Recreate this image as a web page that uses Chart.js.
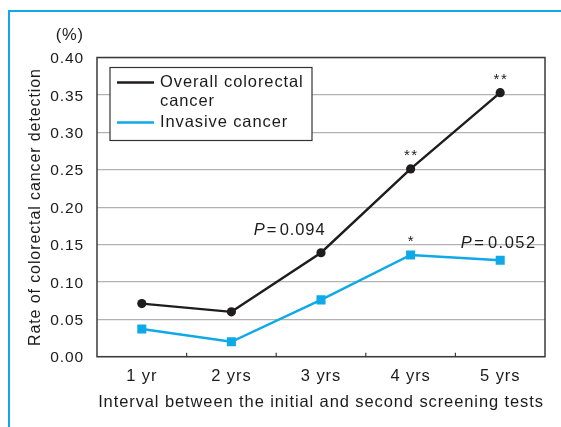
<!DOCTYPE html>
<html>
<head>
<meta charset="utf-8">
<script src="https://cdn.jsdelivr.net/npm/chart.js@4.4.1/dist/chart.umd.min.js"></script>
<style>
  html, body { margin: 0; padding: 0; background: #ffffff; }
  #wrap { position: relative; width: 561px; height: 427px; }
  canvas { display: block; }
</style>
</head>
<body>
<div id="wrap"><canvas id="chart" width="561" height="427"></canvas></div>
<script>
// Screening interval categories
const intervals = ['1 yr', '2 yrs', '3 yrs', '4 yrs', '5 yrs'];

// Detection rates (%)
const overallRates = [0.071, 0.060, 0.139, 0.251, 0.353];
const invasiveRates = [0.037, 0.020, 0.076, 0.136, 0.129];

// Significance notes shown beside each point
const overallNotes = ['', '', 'P=0.094', '**', '**'];
const invasiveNotes = ['', '', '', '*', 'P=0.052'];

// Y-axis range and step
const yMin = 0, yMax = 0.40, yStep = 0.05;

const seriesNames = ['Overall colorectal\ncancer', 'Invasive cancer'];

const FONT = '"Liberation Sans", Arial, Helvetica, sans-serif';
const TEXT_SIZE = 16.5;
const INK = '#1c1a1b';
const BLACK = '#1f1c1d';
const BLUE = '#0ea9e6';
const FRAME = '#10a8e6';
const SPACING = '0.9px';

// Draws a note; an italic leading "P" is set apart from "=value"
function drawNote(ctx, text, x, y, align) {
  if (text.startsWith('P=')) {
    const value = text.slice(2);
    ctx.font = 'italic ' + TEXT_SIZE + 'px ' + FONT;
    const wP = ctx.measureText('P').width;
    ctx.font = TEXT_SIZE + 'px ' + FONT;
    const wEq = ctx.measureText('=').width;
    const wV = ctx.measureText(value).width;
    const gap1 = 1, gap2 = 2.5;
    const total = wP + gap1 + wEq + gap2 + wV;
    let x0 = align === 'right' ? x - total : (align === 'center' ? x - total / 2 : x);
    ctx.textAlign = 'left';
    ctx.textBaseline = 'middle';
    ctx.font = 'italic ' + TEXT_SIZE + 'px ' + FONT;
    ctx.fillText('P', x0, y);
    ctx.font = TEXT_SIZE + 'px ' + FONT;
    ctx.fillText('=', x0 + wP + gap1, y);
    ctx.fillText(value, x0 + wP + gap1 + wEq + gap2, y);
  } else {
    ctx.font = '15px ' + FONT;
    ctx.textAlign = 'center';
    ctx.textBaseline = 'alphabetic';
    const saved = ctx.letterSpacing;
    ctx.letterSpacing = '1.5px';
    ctx.fillText(text, x + 0.75, y);
    ctx.letterSpacing = saved;
  }
}

const decor = {
  id: 'decor',
  beforeDraw(chart) {
    const ctx = chart.ctx;
    ctx.save();
    ctx.fillStyle = '#ffffff';
    ctx.fillRect(0, 0, chart.width, chart.height);
    // blue panel frame
    ctx.fillStyle = FRAME;
    ctx.fillRect(8, 10, chart.width - 8, 2);
    ctx.fillRect(8, 10, 2, chart.height - 10);
    ctx.restore();
    ctx.letterSpacing = SPACING;
  },
  beforeDatasetsDraw(chart) {
    const ctx = chart.ctx;
    const a = chart.chartArea;
    const x = chart.scales.x;
    ctx.save();
    // plot box
    ctx.strokeStyle = '#3a3a3a';
    ctx.lineWidth = 1.5;
    ctx.strokeRect(a.left, a.top, a.right - a.left, a.bottom - a.top);
    // inward tick marks between categories
    ctx.lineWidth = 1.2;
    for (let i = 0; i < intervals.length - 1; i++) {
      const bx = (x.getPixelForValue(i) + x.getPixelForValue(i + 1)) / 2;
      ctx.beginPath();
      ctx.moveTo(bx, a.bottom);
      ctx.lineTo(bx, a.bottom - 4);
      ctx.stroke();
    }
    // unit label above the value axis
    ctx.fillStyle = INK;
    ctx.font = TEXT_SIZE + 'px ' + FONT;
    ctx.textAlign = 'right';
    ctx.textBaseline = 'middle';
    ctx.fillText('(%)', a.left - 13, a.top - 22);

    // legend
    const lx = a.left + 13, ly = a.top + 10, lw = 202, lh = 73;
    ctx.fillStyle = '#ffffff';
    ctx.fillRect(lx, ly, lw, lh);
    ctx.strokeStyle = '#333333';
    ctx.lineWidth = 1.2;
    ctx.strokeRect(lx, ly, lw, lh);
    const rows = [
      { color: BLACK, lines: seriesNames[0].split('\n'), y: ly + 15 },
      { color: BLUE, lines: seriesNames[1].split('\n'), y: ly + 55 }
    ];
    ctx.lineWidth = 2.4;
    rows.forEach(r => {
      ctx.strokeStyle = r.color;
      ctx.beginPath();
      ctx.moveTo(lx + 7, r.y);
      ctx.lineTo(lx + 44, r.y);
      ctx.stroke();
      ctx.fillStyle = INK;
      ctx.font = TEXT_SIZE + 'px ' + FONT;
      ctx.textAlign = 'left';
      ctx.textBaseline = 'middle';
      r.lines.forEach((t, k) => ctx.fillText(t, lx + 50, r.y + k * 19));
    });
    ctx.restore();
  },
  afterDatasetsDraw(chart) {
    const ctx = chart.ctx;
    ctx.save();
    ctx.fillStyle = INK;
    const m0 = chart.getDatasetMeta(0).data;
    const m1 = chart.getDatasetMeta(1).data;
    overallNotes.forEach((t, i) => {
      if (!t) return;
      const p = m0[i];
      if (t.startsWith('P=')) drawNote(ctx, t, p.x + 4.5, p.y - 22, 'right');
      else drawNote(ctx, t, p.x, p.y - 8.5, 'center');
    });
    invasiveNotes.forEach((t, i) => {
      if (!t) return;
      const p = m1[i];
      if (t.startsWith('P=')) drawNote(ctx, t, p.x - 1.5, p.y - 16.5, 'center');
      else drawNote(ctx, t, p.x, p.y - 8.5, 'center');
    });
    ctx.restore();
  }
};

new Chart(document.getElementById('chart'), {
  type: 'line',
  data: {
    labels: intervals,
    datasets: [
      {
        label: 'Overall colorectal cancer',
        data: overallRates,
        borderColor: BLACK,
        backgroundColor: BLACK,
        borderWidth: 2.4,
        pointStyle: 'circle',
        pointRadius: 4.6,
        pointBorderWidth: 0,
        pointBackgroundColor: BLACK,
        tension: 0
      },
      {
        label: 'Invasive cancer',
        data: invasiveRates,
        borderColor: BLUE,
        backgroundColor: BLUE,
        borderWidth: 2.4,
        pointStyle: 'rect',
        pointRadius: 6.4,
        pointBorderWidth: 0,
        pointBackgroundColor: BLUE,
        tension: 0
      }
    ]
  },
  options: {
    responsive: false,
    animation: false,
    devicePixelRatio: 1,
    layout: { padding: { top: 57.5, right: 16, left: 0, bottom: 0 } },
    plugins: {
      legend: { display: false },
      tooltip: { enabled: false }
    },
    scales: {
      x: {
        type: 'category',
        offset: true,
        grid: { display: false, drawTicks: false },
        border: { display: false },
        ticks: {
          color: INK,
          font: { family: FONT, size: TEXT_SIZE },
          padding: 10.2,
          maxRotation: 0
        },
        title: {
          display: true,
          text: 'Interval between the initial and second screening tests',
          color: INK,
          font: { family: FONT, size: TEXT_SIZE },
          padding: { top: 0, bottom: 14.6 }
        },
        afterFit(scale) { scale.height = 70.3; }
      },
      y: {
        min: yMin,
        max: yMax,
        grid: { color: '#b2b2b2', lineWidth: 1.2, drawTicks: false },
        border: { display: false },
        ticks: {
          stepSize: yStep,
          color: INK,
          font: { family: FONT, size: 15.5 },
          padding: 13,
          labelOffset: 1.5,
          callback: v => Number(v).toFixed(2)
        },
        title: {
          display: true,
          text: 'Rate of colorectal cancer detection',
          color: INK,
          font: { family: FONT, size: 16 },
          padding: { top: 26, bottom: 0 }
        },
        afterFit(scale) { scale.width = 97; }
      }
    }
  },
  plugins: [decor]
});
</script>
</body>
</html>
